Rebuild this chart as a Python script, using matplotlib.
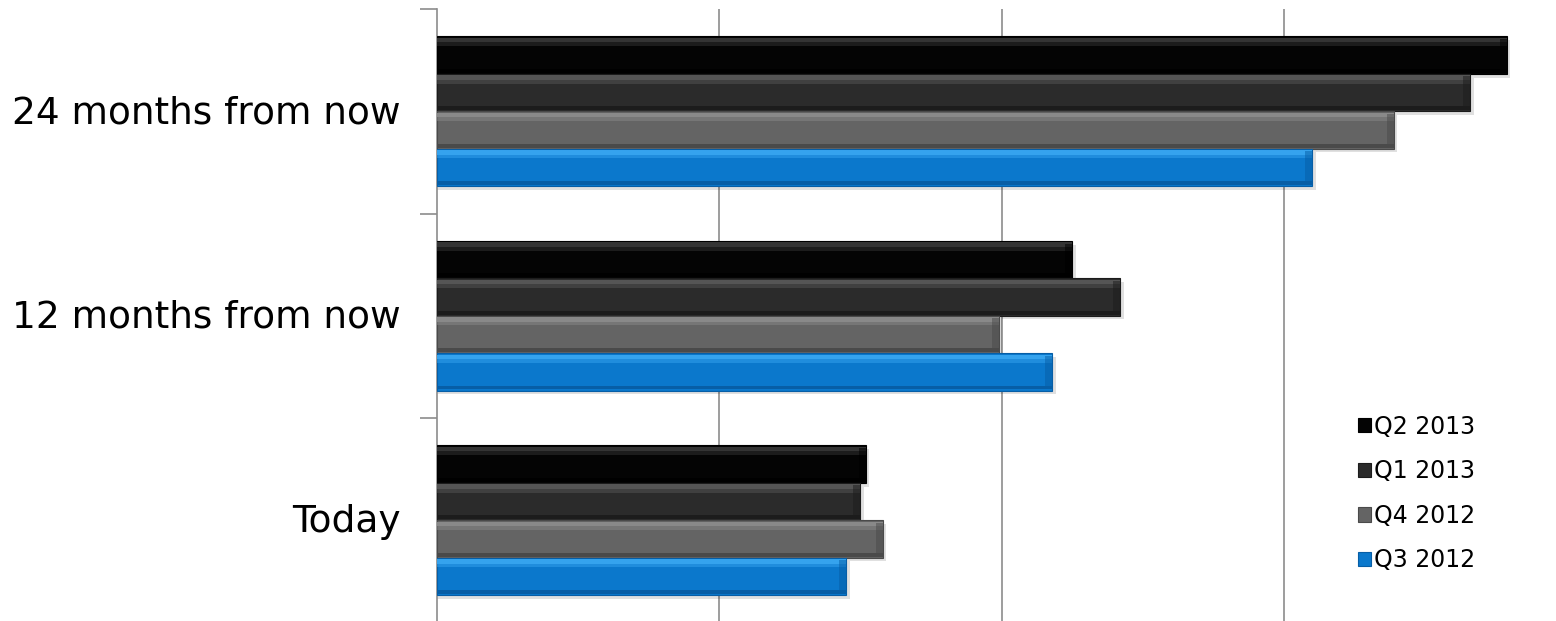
import matplotlib
matplotlib.use("Agg")
import matplotlib.pyplot as plt
from matplotlib.patches import Patch
import numpy as np

# data (grid step = 10)
categories = ["Today", "12 months from now", "24 months from now"]
series = ["Q2 2013", "Q1 2013", "Q4 2012", "Q3 2012"]
q2_2013 = [15.2, 22.5, 37.9]
q1_2013 = [15.0, 24.2, 36.6]
q4_2012 = [15.8, 19.9, 33.9]
q3_2012 = [14.5, 21.8, 31.0]
values = [q2_2013, q1_2013, q4_2012, q3_2012]

base_cols = ["#040404", "#2b2b2b", "#646464", "#0b78cc"]
top_cols = ["#3a3a3a", "#5a5a5a", "#8e8e8e", "#3aa8f2"]
bot_cols = ["#000000", "#1c1c1c", "#4a4a4a", "#075ea6"]

W, H = 1556, 621
fig = plt.figure(figsize=(W / 100, H / 100), dpi=100)
ax = fig.add_axes([437 / W, -1.5 / H, 1 - 437 / W, 613.5 / H])

y = np.arange(len(categories))
h = 0.183
offsets = [1.5 * h, 0.5 * h, -0.5 * h, -1.5 * h]

for vals, off, bc, tc, dc in zip(values, offsets, base_cols, top_cols, bot_cols):
    yy = y + off
    vals = np.array(vals)
    # soft shadow
    ax.barh(yy - 0.018, vals + 0.12, height=h, color="#000000",
            alpha=0.12, linewidth=0, zorder=2)
    ax.barh(yy, vals, height=h, color=bc, linewidth=0.8, edgecolor=dc, zorder=3)
    # graded top highlight / bottom shade for a bevel look
    ax.barh(yy + h * 0.40, vals, height=h * 0.12, color=tc, alpha=0.9, linewidth=0, zorder=4)
    ax.barh(yy + h * 0.29, vals, height=h * 0.10, color=tc, alpha=0.45, linewidth=0, zorder=4)
    ax.barh(yy - h * 0.42, vals, height=h * 0.10, color=dc, linewidth=0, zorder=4)
    # darker right end
    ax.barh(yy, np.full_like(vals, 0.25), left=vals - 0.25, height=h * 0.86,
            color=dc, alpha=0.5, linewidth=0, zorder=4)

ax.set_xlim(0, (W - 437) / 282.3 * 10)
ax.set_ylim(-0.5, 2.5)

ax.set_xticks([10, 20, 30])
ax.xaxis.grid(True, color="#8c8c8c", linewidth=1.2)
ax.set_axisbelow(True)
ax.tick_params(axis="x", length=0, labelbottom=False)

ax.set_yticks([-0.5, 0.5, 1.5, 2.5])
ax.set_yticklabels([])
ax.tick_params(axis="y", length=12, width=1.2, color="#8c8c8c")
for i, c in enumerate(categories):
    ax.text(-1.3, i - 0.01, c, ha="right", va="center", fontsize=27,
            family="DejaVu Sans", color="#000000")

for s in ["top", "right", "bottom"]:
    ax.spines[s].set_visible(False)
ax.spines["left"].set_color("#8c8c8c")
ax.spines["left"].set_linewidth(1.2)

handles = [Patch(facecolor=c, edgecolor=d, linewidth=0.8) for c, d in zip(base_cols, bot_cols)]
ax.legend(handles, series, loc="upper left", bbox_to_anchor=((1346 - 437) / (W - 437), 0.358),
          frameon=False, fontsize=17, handlelength=0.55, handleheight=0.55,
          handletextpad=0.12, labelspacing=0.87, borderpad=0)

fig.savefig("out.png", dpi=100, facecolor="white")
